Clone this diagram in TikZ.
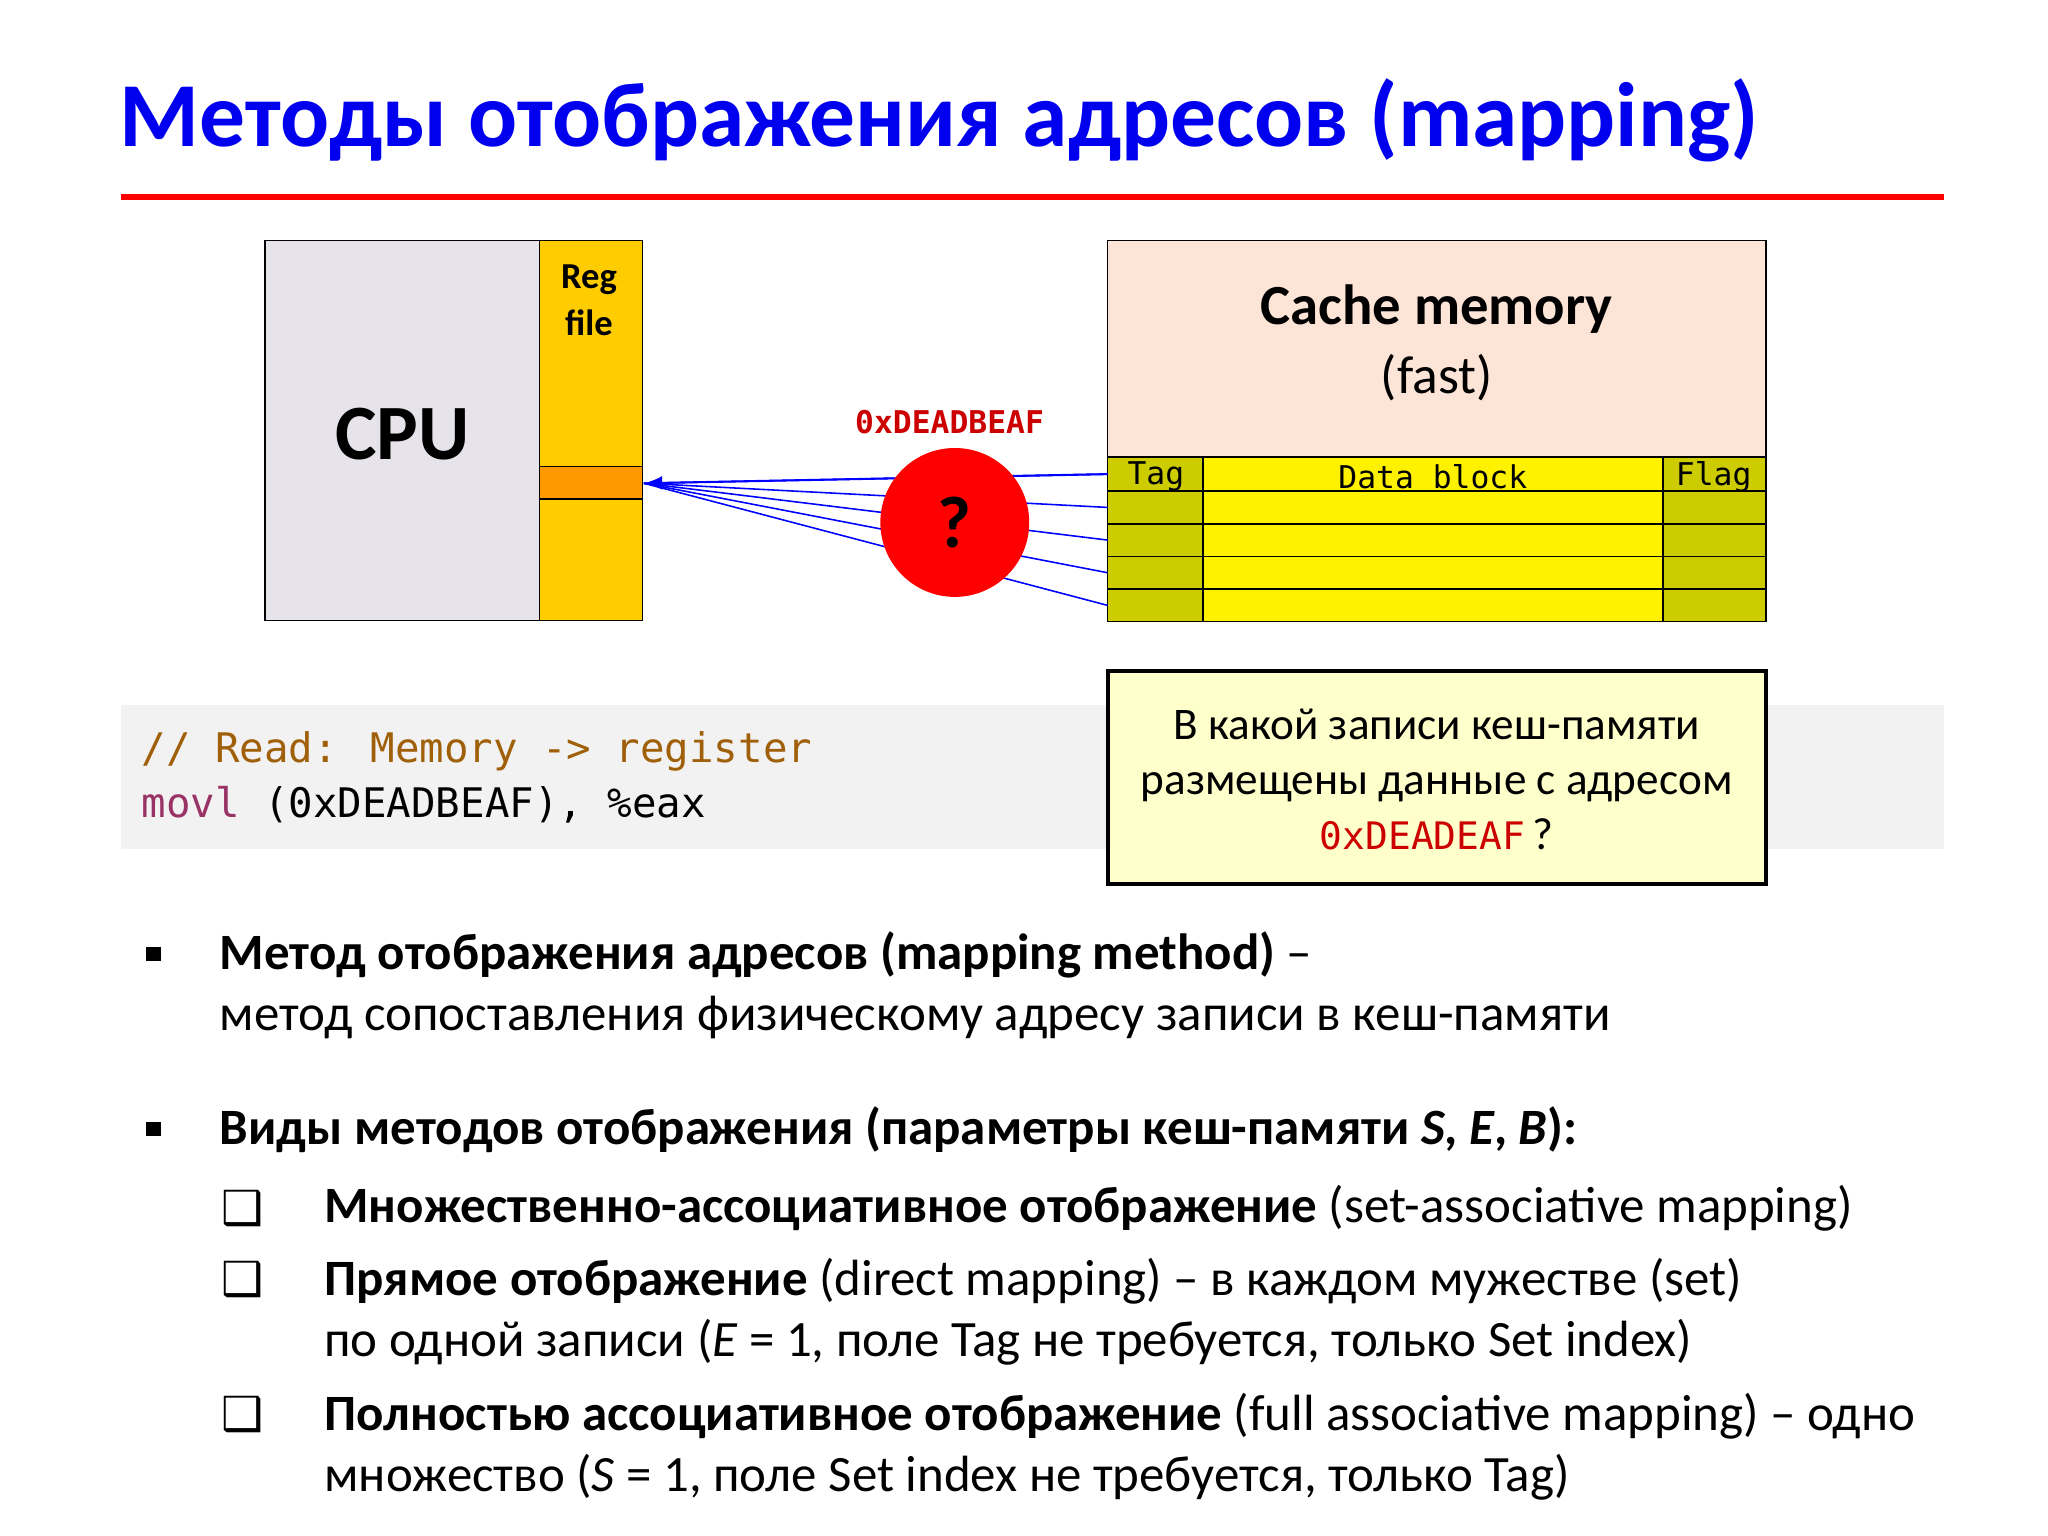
\documentclass[tikz,border=0pt]{standalone}
\usepackage{fontspec}
\usetikzlibrary{arrows.meta}
\setmainfont{Carlito}
\newfontfamily\mono{DejaVu Sans Mono}
\newfontfamily\dvs{DejaVu Sans}
\definecolor{ttl}{HTML}{0000EE}
\definecolor{cpuc}{HTML}{E6E4EA}
\definecolor{regc}{HTML}{FFCC00}
\definecolor{orc}{HTML}{FF9900}
\definecolor{peach}{HTML}{FCE4D6}
\definecolor{olive}{HTML}{CCCC00}
\definecolor{codebg}{HTML}{F2F2F2}
\definecolor{cmt}{HTML}{A0600A}
\definecolor{kw}{HTML}{993366}
\definecolor{noteb}{HTML}{FFFFCC}
\definecolor{hred}{HTML}{CC0000}
\tikzset{x=0.5pt,y=-0.5pt,
 body/.style={anchor=west,inner sep=0,font=\fontsize{19.5}{23}\selectfont},
 box/.style={draw=black,line width=0.6pt},
 link/.style={draw=blue,line width=0.6pt}}
\begin{document}
\begin{tikzpicture}
\useasboundingbox[fill=white] (0,0) rectangle (1568,1176);
\node[anchor=west,inner sep=0,text=ttl,font=\fontsize{35}{40}\selectfont\bfseries] (title) at (91,92) {Методы отображения адресов (mapping)};
\draw[red,line width=2.5pt] (93,151) -- (1488,151);
% CPU
\draw[box,fill=cpuc] (203,184) rectangle (413,475);
\draw[box,fill=regc] (413,184) rectangle (492,475);
\draw[box,fill=orc] (413,357) rectangle (492,382);
\node[font=\fontsize{30}{34}\selectfont\bfseries] (cpu) at (308,332) {CPU};
\node[font=\fontsize{14}{18}\selectfont\bfseries,align=center] (reg) at (451,230) {Reg\\file};
\coordinate (regin) at (493,370);
% cache
\draw[box,fill=peach] (848,184) rectangle (1352,350);
\node[font=\fontsize{21.7}{26}\selectfont\bfseries] (cm) at (1100,237) {Cache memory};
\node[font=\fontsize{20.5}{24}\selectfont] (fast) at (1100,289) {(fast)};
\foreach \i/\a/\b in {0/350/376,1/376/401,2/401/426,3/426/451,4/451/476}{
  \draw[box,fill=olive] (848,\a) rectangle (921,\b);
  \draw[box,fill=yellow] (921,\a) rectangle (1273,\b);
  \draw[box,fill=olive] (1273,\a) rectangle (1352,\b);
  \coordinate (r\i) at (848,{(\a+\b)/2});
}
\node[font=\mono\fontsize{12}{14}\selectfont] (th1) at (885,365) {Tag};
\node[font=\mono\fontsize{12}{14}\selectfont] (th2) at (1097,365) {Data block};
\node[font=\mono\fontsize{12}{14}\selectfont] (th3) at (1312,365) {Flag};
\foreach \i in {0,...,4}{\draw[link] (r\i) -- (regin);}
\draw[blue,line width=0.8pt,-{Latex[length=7pt]}] (r0) -- (regin);
\node[circle,fill=red,minimum size=57pt,inner sep=0,font=\fontsize{28}{30}\selectfont\bfseries] (q) at (731,400) {?};
\node[text=hred,font=\mono\bfseries\fontsize{12}{14}\selectfont] (addr) at (727,323) {0xDEADBEAF};
% code
\fill[codebg] (93,540) rectangle (1488,650);
\node[body,font=\mono\fontsize{15.6}{20}\selectfont,text=cmt] (c1) at (108,575) {// Read: Memory -> register};
\node[body,font=\mono\fontsize{15.6}{20}\selectfont] (c2) at (108,616) {\textcolor{kw}{movl} (0xDEADBEAF), \%eax};
% note
\draw[line width=1.5pt,fill=noteb] (848,514) rectangle (1352,677);
\node[align=center,font=\fontsize{17.3}{21}\selectfont] (note) at (1100,597) {В какой записи кеш-памяти\\размещены данные с адресом\\{\mono\fontsize{14.5}{21}\selectfont\color{hred}0xDEADEAF}\,?};
% bullets
\fill (112,725) rectangle (123,736);
\node[body] (b1) at (168,731) {\textbf{Метод отображения адресов (mapping method)} –};
\node[body] (b1b) at (168,779) {метод сопоставления физическому адресу записи в кеш-памяти};
\fill (112,859) rectangle (123,870);
\node[body] (b2) at (168,865) {\textbf{Виды методов отображения (параметры кеш-памяти \textit{S}, \textit{E}, \textit{B}):}};
\foreach \y in {925,980,1083}{\node[font=\dvs\fontsize{18}{20}\selectfont] at (186,\y) {❑};}
\node[body] (s1) at (248,925) {\textbf{Множественно-ассоциативное отображение} (set-associative mapping)};
\node[body] (s2) at (248,981) {\textbf{Прямое отображение} (direct mapping) – в каждом мужестве (set)};
\node[body] (s2b) at (248,1028) {по одной записи (\textit{E} = 1, поле Tag не требуется, только Set index)};
\node[body] (s3) at (248,1084) {\textbf{Полностью ассоциативное отображение} (full associative mapping) – одно};
\node[body] (s3b) at (248,1131) {множество (\textit{S} = 1, поле Set index не требуется, только Tag)};
\end{tikzpicture}
\end{document}
